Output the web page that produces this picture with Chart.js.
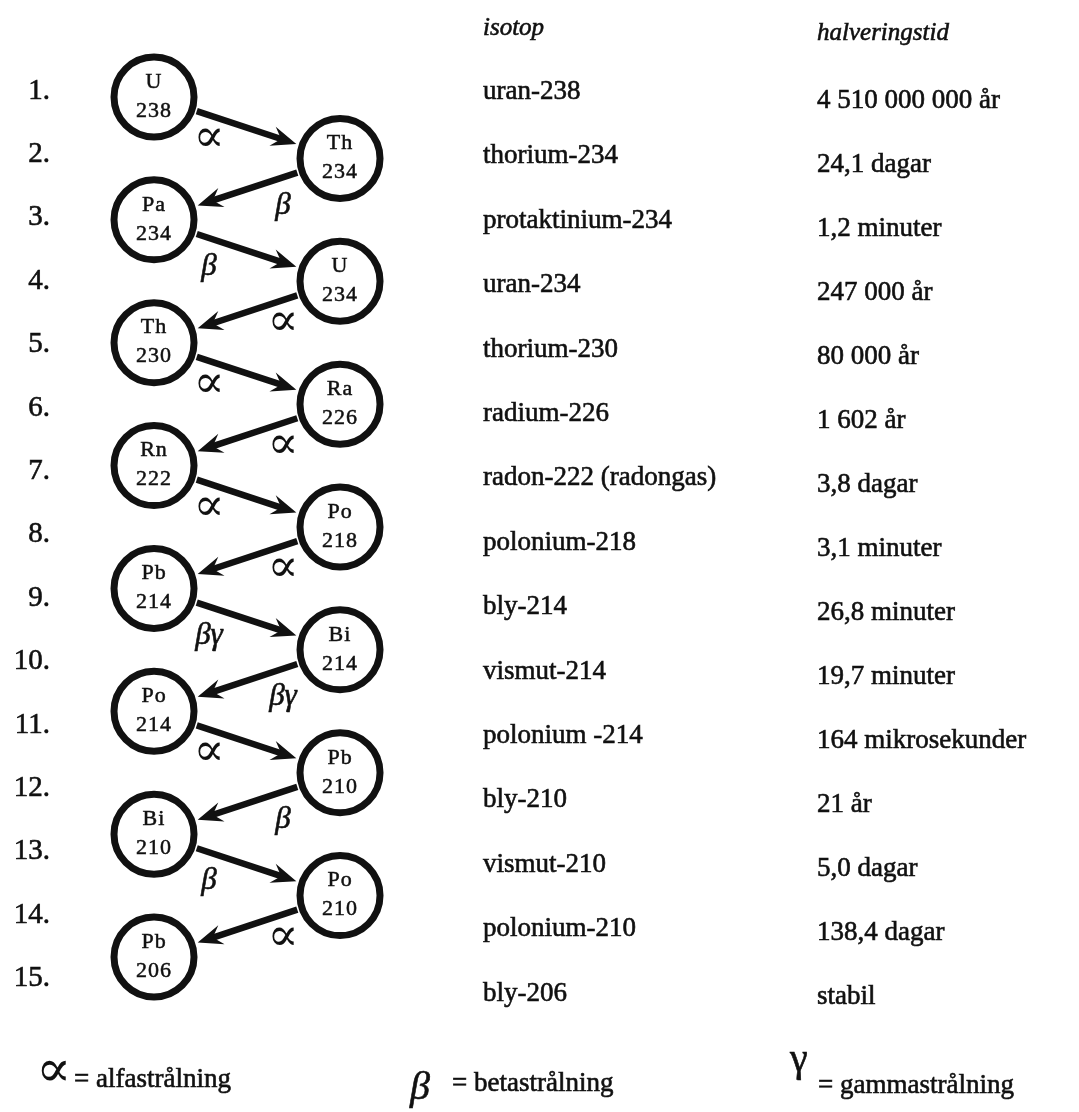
<!DOCTYPE html>
<html>
<head>
<meta charset="utf-8">
<script src="https://cdn.jsdelivr.net/npm/chart.js@4/dist/chart.umd.min.js"></script>
<style>
  body { margin: 0; background: #fff; }
  #wrap { width: 1079px; height: 1112px; position: relative; }
</style>
</head>
<body>
<div id="wrap"><canvas id="myChart"></canvas></div>
<script>
// sönderfallskedjan U-238 -> Pb-206
var elements = ['U', 'Th', 'Pa', 'U', 'Th', 'Ra', 'Rn', 'Po', 'Pb', 'Bi', 'Po', 'Pb', 'Bi', 'Po', 'Pb'];
var massNumbers = [238, 234, 234, 234, 230, 226, 222, 218, 214, 214, 214, 210, 210, 210, 206];
var isotopes = ['uran-238', 'thorium-234', 'protaktinium-234', 'uran-234', 'thorium-230', 'radium-226',
    'radon-222 (radongas)', 'polonium-218', 'bly-214', 'vismut-214', 'polonium -214', 'bly-210',
    'vismut-210', 'polonium-210', 'bly-206'];
var halfLives = ['4 510 000 000 år', '24,1 dagar', '1,2 minuter', '247 000 år', '80 000 år', '1 602 år',
    '3,8 dagar', '3,1 minuter', '26,8 minuter', '19,7 minuter', '164 mikrosekunder', '21 år',
    '5,0 dagar', '138,4 dagar', 'stabil'];
var decays = ['∝', 'β', 'β', '∝', '∝', '∝', '∝', '∝', 'βγ', 'βγ', '∝', 'β', 'β', '∝'];
var headers = ['isotop', 'halveringstid'];
var legendItems = [['∝', 'alfastrålning'], ['β', 'betastrålning'], ['γ', 'gammastrålning']];

var chainData = elements.map(function (el, i) {
    return { x: i % 2, y: i + 1 };
});

var serif = '"Liberation Serif", "Times New Roman", serif';

// text med lite tjockare kontur, som i den skannade förlagan
function inkText(ctx, txt, x, y) {
    ctx.fillText(txt, x, y);
    ctx.strokeText(txt, x, y);
}

var chainPlugin = {
    id: 'chain',
    afterDatasetsDraw: function (chart) {
        var ctx = chart.ctx;
        var pts = chart.getDatasetMeta(0).data;
        var yRow = chart.scales.y;
        var R = 45;
        ctx.save();
        ctx.fillStyle = '#111';
        ctx.strokeStyle = '#111';

        // pilar mellan cirklarna
        for (var i = 0; i < pts.length - 1; i++) {
            var a = pts[i], b = pts[i + 1];
            var dx = b.x - a.x, dy = b.y - a.y, len = Math.hypot(dx, dy);
            var ux = dx / len, uy = dy / len;
            var x1 = a.x + ux * R, y1 = a.y + uy * R;
            var x2 = b.x - ux * (R + 1), y2 = b.y - uy * (R + 1);
            ctx.lineWidth = 6.5;
            ctx.lineCap = 'butt';
            ctx.beginPath();
            ctx.moveTo(x1, y1);
            ctx.lineTo(x2 - ux * 12, y2 - uy * 12);
            ctx.stroke();
            // pilspets
            var px = -uy, py = ux;
            ctx.beginPath();
            ctx.moveTo(x2, y2);
            ctx.lineTo(x2 - ux * 25 + px * 10, y2 - uy * 25 + py * 10);
            ctx.lineTo(x2 - ux * 16, y2 - uy * 16);
            ctx.lineTo(x2 - ux * 25 - px * 10, y2 - uy * 25 - py * 10);
            ctx.closePath();
            ctx.fill();

            // strålningstyp under pilen
            var lx = dx > 0 ? a.x + 55 : a.x - 57;
            var ly = a.y + 45;
            ctx.textAlign = 'center';
            ctx.textBaseline = 'middle';
            if (decays[i] === '∝') {
                ctx.font = '46px "DejaVu Serif", ' + serif;
                ctx.fillText(decays[i], lx, ly - 3);
            } else {
                ctx.lineWidth = 0.6;
                ctx.font = 'italic 31px ' + serif;
                inkText(ctx, decays[i], lx, ly + 2);
            }
        }

        // text i cirklarna
        ctx.textAlign = 'center';
        ctx.textBaseline = 'middle';
        ctx.font = '22px ' + serif;
        ctx.letterSpacing = '1px';
        ctx.lineWidth = 0.5;
        pts.forEach(function (p, i) {
            inkText(ctx, elements[i], p.x, p.y - 15);
            inkText(ctx, String(massNumbers[i]), p.x, p.y + 14);
        });
        ctx.letterSpacing = '0px';

        // radnummer och tabell
        ctx.lineWidth = 0.6;
        for (var r = 0; r < isotopes.length; r++) {
            var yy = yRow.getPixelForValue(r + 1);
            ctx.textAlign = 'right';
            ctx.font = '29px ' + serif;
            inkText(ctx, (r + 1) + '.', 50, yy);
            ctx.textAlign = 'left';
            ctx.font = '27px ' + serif;
            inkText(ctx, isotopes[r], 483, yy + 1 + r * 1.0);
            inkText(ctx, halfLives[r], 817, yy + 10 + r * 0.6);
        }
        ctx.font = 'italic 25px ' + serif;
        inkText(ctx, headers[0], 483, 28);
        inkText(ctx, headers[1], 817, 33);

        // teckenförklaring
        var ly0 = 1080;
        ctx.font = '52px "DejaVu Serif", ' + serif;
        ctx.fillText(legendItems[0][0], 36, ly0 - 8);
        ctx.font = '27px ' + serif;
        inkText(ctx, '= ' + legendItems[0][1], 74, ly0);

        ctx.font = 'italic 40px ' + serif;
        inkText(ctx, legendItems[1][0], 410, ly0 + 8);
        ctx.font = '27px ' + serif;
        inkText(ctx, '= ' + legendItems[1][1], 452, ly0 + 4);

        ctx.font = '40px ' + serif;
        inkText(ctx, legendItems[2][0], 790, ly0 - 20);
        ctx.font = '27px ' + serif;
        inkText(ctx, '= ' + legendItems[2][1], 818, ly0 + 6);
        ctx.restore();
    }
};

var ctx = document.getElementById('myChart');
var myChart = new Chart(ctx, {
    type: 'scatter',
    data: {
        datasets: [{
            label: 'sönderfallskedja',
            data: chainData,
            xAxisID: 'x',
            yAxisID: 'yc',
            pointRadius: 40,
            pointHoverRadius: 40,
            pointBorderWidth: 7,
            pointBorderColor: '#111',
            pointBackgroundColor: '#ffffff'
        }]
    },
    plugins: [chainPlugin],
    options: {
        responsive: true,
        maintainAspectRatio: false,
        animation: false,
        layout: { padding: 0, autoPadding: false },
        plugins: {
            legend: { display: false },
            tooltip: { enabled: false }
        },
        scales: {
            x: { type: 'linear', display: false, min: -0.828, max: 4.973 },
            yc: { type: 'linear', display: false, reverse: true, min: -0.579, max: 17.523 },
            y: { type: 'linear', display: false, reverse: true, min: -0.435, max: 17.104 }
        }
    }
});
</script>
</body>
</html>
